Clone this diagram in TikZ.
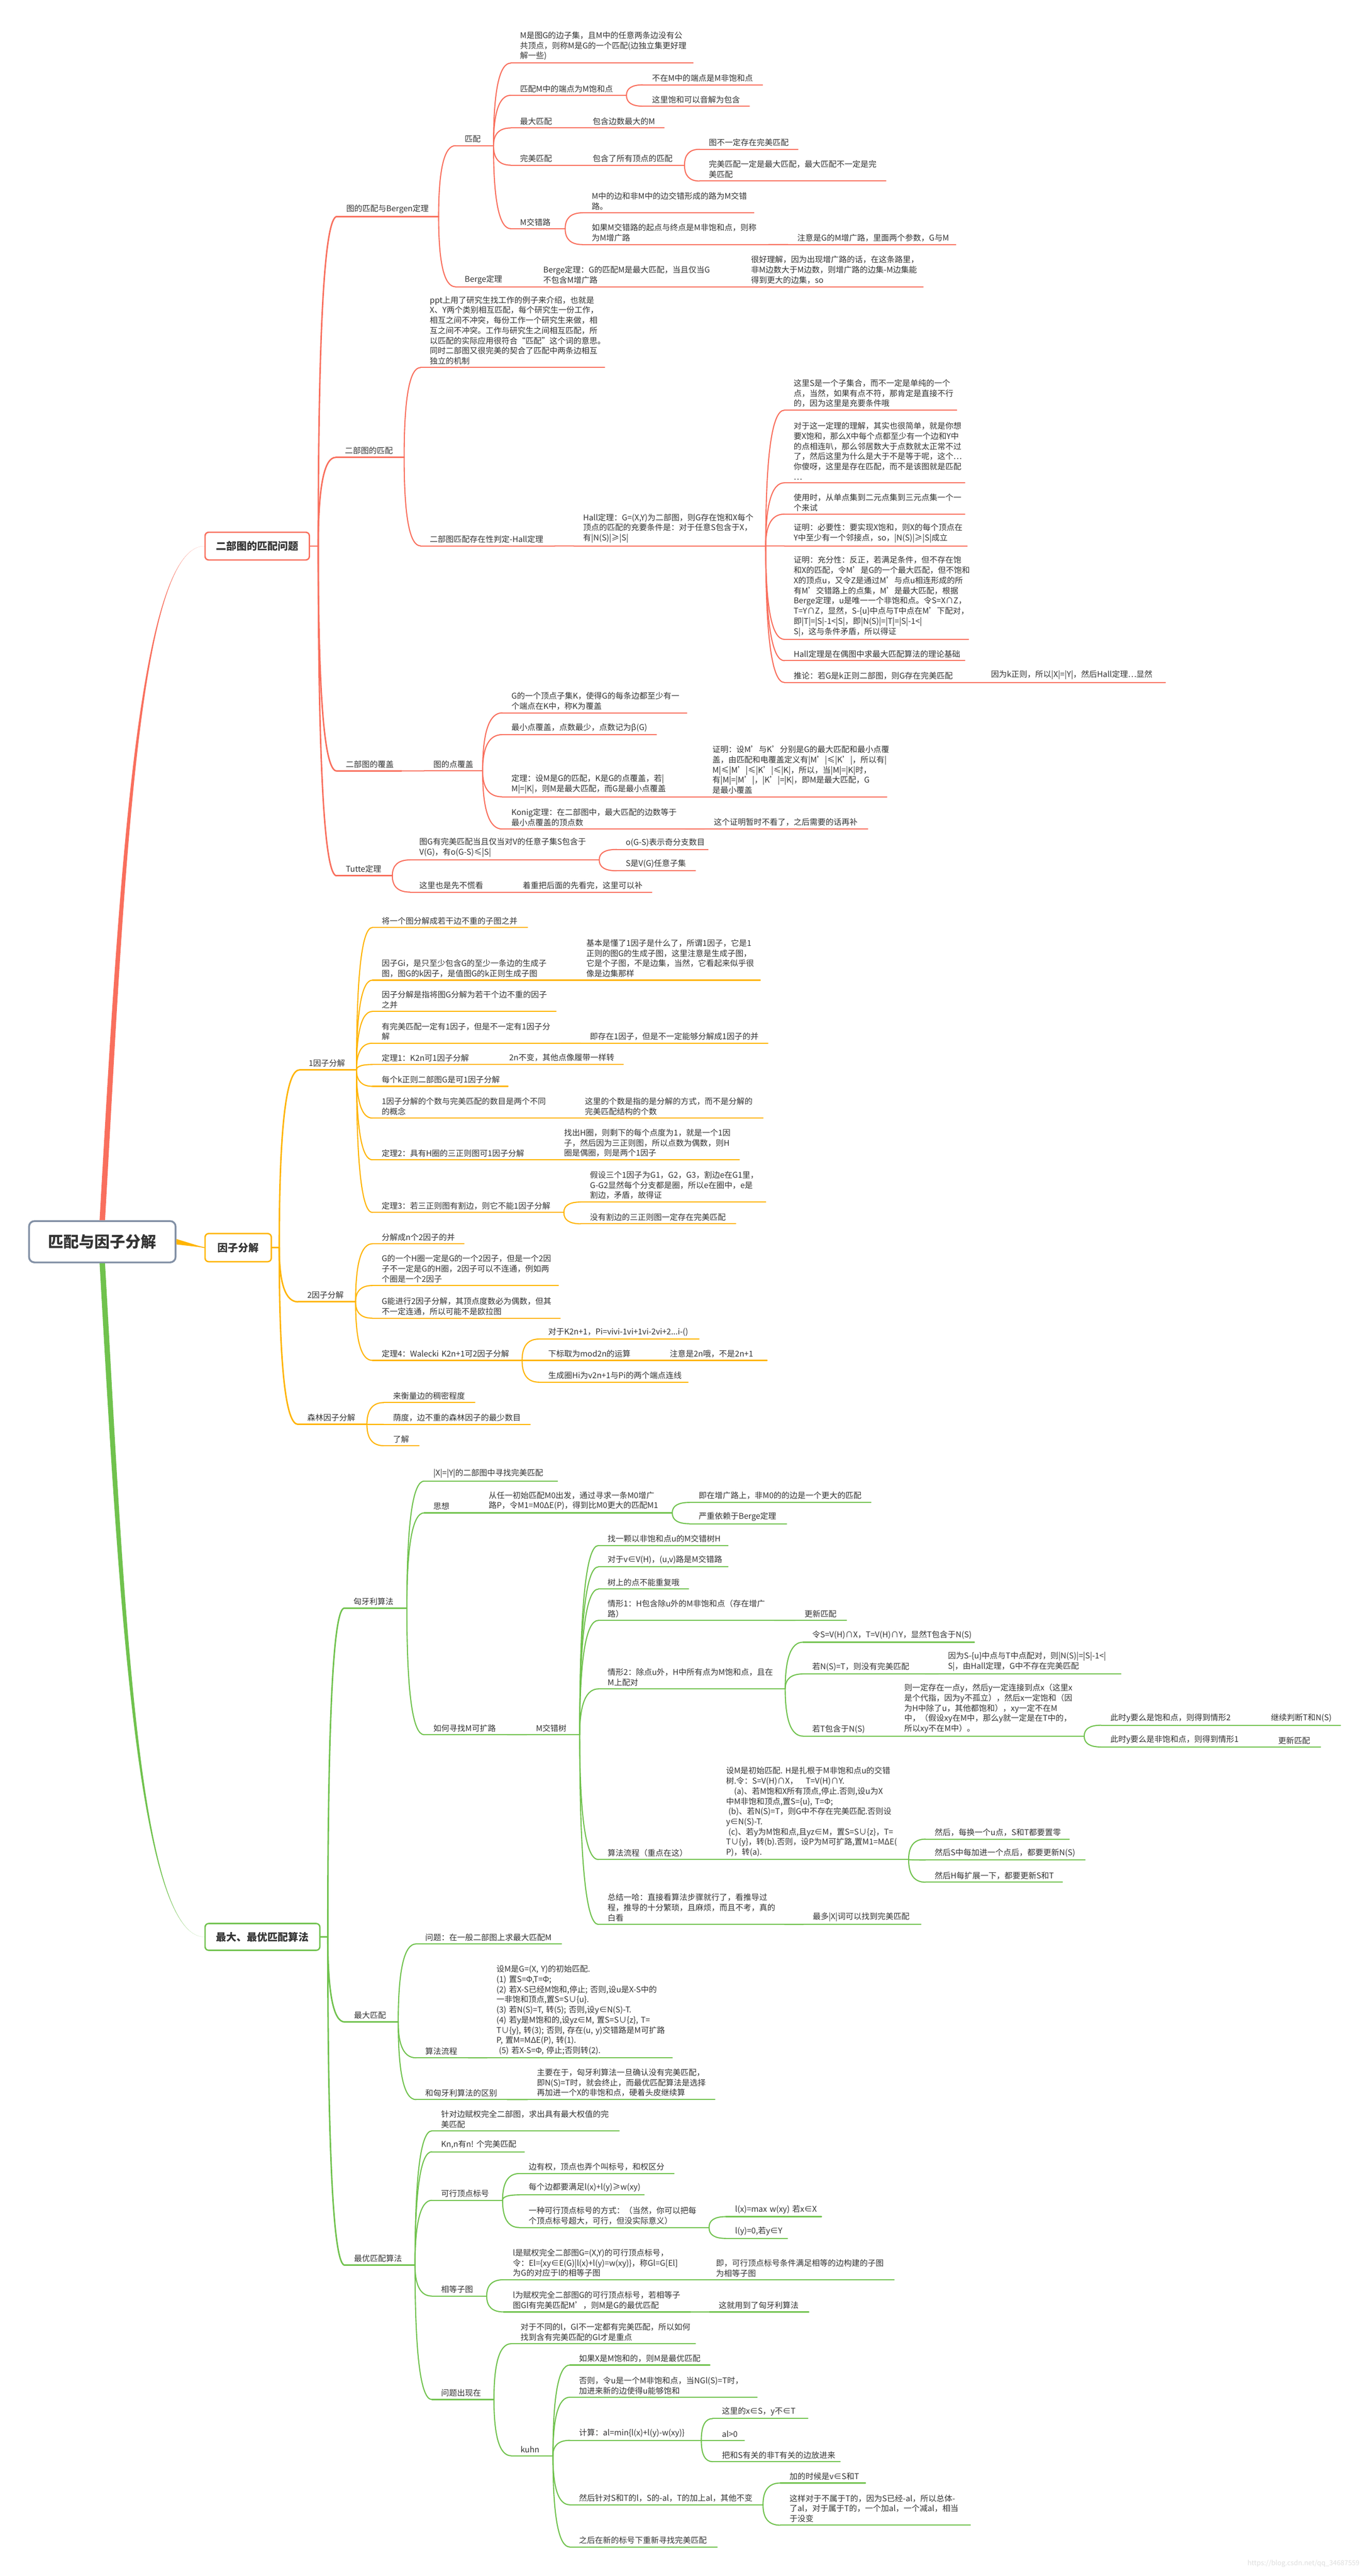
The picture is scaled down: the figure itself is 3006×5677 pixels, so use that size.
\documentclass[tikz,border=0pt]{standalone}
\usepackage{fontspec}
\setmainfont{Noto Sans CJK SC}
\usepackage{tikz}
\usetikzlibrary{calc}
\definecolor{rc}{HTML}{F96F5D}
\definecolor{yc}{HTML}{FFB400}
\definecolor{gc}{HTML}{70C24D}
\definecolor{rootc}{HTML}{8391A6}
\definecolor{txt}{HTML}{333333}
\newcommand{\leaffont}{\fontsize{8.8pt}{11.2pt}\selectfont\hyphenpenalty=10000\exhyphenpenalty=10000}
\newcommand{\twig}[6]{%
  \pgfmathsetmacro{\tlw}{(#4-#3)/2-20}%
  \node[#1, text width=\tlw pt] (#2) at (#3,#5) {#6};}

\begin{document}
\begin{tikzpicture}[x=0.5pt, y=-0.5pt,
  lf/.style={anchor=south west, inner xsep=10pt, inner ysep=3pt,
    align=left, font=\leaffont, text=txt,
    append after command={(\tikzlastnode.south west) edge[draw=#1, line width=1.2pt, line cap=round] (\tikzlastnode.south east)}},
  l1/.style={anchor=south west, inner xsep=10pt, inner ysep=3pt,
    align=left, font=\leaffont, text=txt,
    append after command={(\tikzlastnode.south west) edge[draw=#1, line width=1.6pt, line cap=round] (\tikzlastnode.south east)}},
  br/.style={draw=#1, line width=1.2pt, line cap=round,
    to path={.. controls ($(\tikztostart)!0.667!(\tikztostart|-\tikztotarget)$) and ($(\tikztotarget)!0.667!(\tikztostart|-\tikztotarget)$) .. (\tikztotarget)}},
  box/.style={draw=#1, line width=1.5pt, rounded corners=4pt, fill=white, text=txt,
    font=\fontsize{11.3pt}{13pt}\selectfont\bfseries}]
\fill[white] (0,0) rectangle (3006,5677);
\useasboundingbox (0,0) rectangle (3006,5677);
%
\node[draw=rootc, line width=2pt, rounded corners=6pt, fill=white, text=txt,
  minimum width=161.5pt, minimum height=45.5pt,
  font=\fontsize{17pt}{20pt}\selectfont\bfseries] (root) at (225.5,2736.5) {匹配与因子分解};
\node[box=rc, minimum width=115pt, minimum height=30.5pt] (pm) at (567,1203.5) {二部图的匹配问题};
\node[box=yc, minimum width=73pt, minimum height=31pt] (fz) at (525,2749.5) {因子分解};
\node[box=gc, minimum width=126.5pt, minimum height=29.5pt] (ga) at (578.5,4268.5) {最大、最优匹配算法};
%
\twig{l1=rc}{bg}{743}{966}{477}{图的匹配与Bergen定理}
\twig{lf=rc}{pp}{1004}{1087}{321}{匹配}
\twig{lf=rc}{pp1}{1126}{1527}{139}{M是图G的边子集，且M中的任意两条边没有公\\共顶点，则称M是G的一个匹配(边独立集更好理\\解一些)}
\twig{lf=rc}{pp2}{1126}{1380}{210}{匹配M中的端点为M饱和点}
\twig{lf=rc}{pp21}{1417}{1680}{187}{不在M中的端点是M非饱和点}
\twig{lf=rc}{pp22}{1417}{1651}{234}{这里饱和可以音解为包含}
\twig{lf=rc}{pp3}{1126}{1243}{282}{最大匹配}
\twig{lf=rc}{pp31}{1286}{1463}{282}{包含边数最大的M}
\twig{lf=rc}{pp4}{1126}{1243}{364}{完美匹配}
\twig{lf=rc}{pp41}{1286}{1508}{364}{包含了所有顶点的匹配}
\twig{lf=rc}{pp411}{1542}{1758}{329}{图不一定存在完美匹配}
\twig{lf=rc}{pp412}{1542}{1952}{399}{完美匹配一定是最大匹配，最大匹配不一定是完\\美匹配}
\twig{lf=rc}{pp5}{1126}{1245}{504}{M交错路}
\twig{lf=rc}{pp51}{1284}{1661}{469}{M中的边和非M中的边交错形成的路为M交错\\路。}
\twig{lf=rc}{pp52}{1284}{1693}{539}{如果M交错路的起点与终点是M非饱和点，则称\\为M增广路}
\twig{lf=rc}{pp521}{1737}{2106}{539}{注意是G的M增广路，里面两个参数，G与M}
\twig{lf=rc}{bt}{1004}{1145}{632}{Berge定理}
\twig{lf=rc}{bt1}{1177}{1590}{632}{Berge定理：G的匹配M是最大匹配，当且仅当G\\不包含M增广路}
\twig{lf=rc}{bt11}{1635}{2034}{632}{很好理解，因为出现增广路的话，在这条路里，\\非M边数大于M边数，则增广路的边集-M边集能\\得到更大的边集，so}
\twig{l1=rc}{bp}{740}{890}{1008}{二部图的匹配}
\twig{lf=rc}{bp1}{927}{1332}{810}{ppt上用了研究生找工作的例子来介绍，也就是\\X、Y两个类别相互匹配，每个研究生一份工作，\\相互之间不冲突，每份工作一个研究生来做，相\\互之间不冲突。工作与研究生之间相互匹配，所\\以匹配的实际应用很符合“匹配”这个词的意思。\\同时二部图又很完美的契合了匹配中两条边相互\\独立的机制}
\twig{lf=rc}{bh}{927}{1222}{1203}{二部图匹配存在性判定-Hall定理}
\twig{lf=rc}{hl}{1265}{1687}{1203}{Hall定理：G=(X,Y)为二部图，则G存在饱和X每个\\顶点的匹配的充要条件是：对于任意S包含于X，\\有|N(S)|≥|S|}
\twig{lf=rc}{hl1}{1729}{2108}{904}{这里S是一个子集合，而不一定是单纯的一个\\点，当然，如果有点不符，那肯定是直接不行\\的，因为这里是充要条件哦}
\twig{lf=rc}{hl2}{1729}{2126}{1064}{对于这一定理的理解，其实也很简单，就是你想\\要X饱和，那么X中每个点都至少有一个边和Y中\\的点相连叭，那么邻居数大于点数就太正常不过\\了，然后这里为什么是大于不是等于呢，这个…\\你傻呀，这里是存在匹配，而不是该图就是匹配\\…}
\twig{lf=rc}{hl3}{1729}{2126}{1133}{使用时，从单点集到二元点集到三元点集一个一\\个来试}
\twig{lf=rc}{hl4}{1729}{2131}{1203}{证明：必要性：要实现X饱和，则X的每个顶点在\\Y中至少有一个邻接点，so，|N(S)|≥|S|成立}
\twig{lf=rc}{hl5}{1729}{2134}{1409}{证明：充分性：反正，若满足条件，但不存在饱\\和X的匹配，令M'是G的一个最大匹配，但不饱和\\X的顶点u，又令Z是通过M'与点u相连形成的所\\有M'交错路上的点集，M'是最大匹配，根据\\Berge定理，u是唯一一个非饱和点。令S=X∩Z，\\T=Y∩Z，显然，S-\{u\}中点与T中点在M'下配对，\\即|T|=|S|-1<|S|，即|N(S)|=|T|=|S|-1<|\\S|，这与条件矛盾，所以得证}
\twig{lf=rc}{hl6}{1729}{2126}{1456}{Hall定理是在偶图中求最大匹配算法的理论基础}
\twig{lf=rc}{hl7}{1729}{2121}{1504}{推论：若G是k正则二部图，则G存在完美匹配}
\twig{lf=rc}{hl71}{2164}{2568}{1504}{因为k正则，所以|X|=|Y|，然后Hall定理…显然}
\twig{l1=rc}{cv}{742}{884}{1699}{二部图的覆盖}
\twig{lf=rc}{cv1}{935}{1063}{1699}{图的点覆盖}
\twig{lf=rc}{cv11}{1107}{1513}{1571}{G的一个顶点子集K，使得G的每条边都至少有一\\个端点在K中，称K为覆盖}
\twig{lf=rc}{cv12}{1107}{1446}{1619}{最小点覆盖，点数最少，点数记为β(G)}
\twig{lf=rc}{cv13}{1107}{1516}{1756}{定理：设M是G的匹配，K是G的点覆盖，若|\\M|=|K|，则M是最大匹配，而G是最小点覆盖}
\twig{lf=rc}{cv131}{1550}{1954}{1756}{证明：设M'与K'分别是G的最大匹配和最小点覆\\盖，由匹配和电覆盖定义有|M'|≤|K'|，所以有|\\M|≤|M'|≤|K'|≤|K|，所以，当|M|=|K|时，\\有|M|=|M'|，|K'|=|K|，即M是最大匹配，G\\是最小覆盖}
\twig{lf=rc}{cv14}{1107}{1510}{1827}{Konig定理：在二部图中，最大匹配的边数等于\\最小点覆盖的顶点数}
\twig{lf=rc}{cv141}{1553}{1912}{1827}{这个证明暂时不看了，之后需要的话再补}
\twig{l1=rc}{tt}{742}{864}{1930}{Tutte定理}
\twig{lf=rc}{tt1}{904}{1320}{1895}{图G有完美匹配当且仅当对V的任意子集S包含于\\V(G)，有o(G-S)≤|S|}
\twig{lf=rc}{tt11}{1359}{1560}{1872}{o(G-S)表示奇分支数目}
\twig{lf=rc}{tt12}{1359}{1532}{1919}{S是V(G)任意子集}
\twig{lf=rc}{tt2}{904}{1090}{1966}{这里也是先不慌看}
\twig{lf=rc}{tt21}{1132}{1436}{1966}{着重把后面的先看完，这里可以补}
%
\twig{l1=yc}{f1}{660}{785}{2358}{1因子分解}
\twig{lf=yc}{f11}{821}{1162}{2044}{将一个图分解成若干边不重的子图之并}
\twig{lf=yc}{f12}{821}{1228}{2160}{因子Gi，是只至少包含G的至少一条边的生成子\\图，图G的k因子，是值图G的k正则生成子图}
\twig{lf=yc}{f121}{1272}{1675}{2160}{基本是懂了1因子是什么了，所谓1因子，它是1\\正则的图G的生成子图，这里注意是生成子图，\\它是个子图，不是边集，当然，它看起来似乎很\\像是边集那样}
\twig{lf=yc}{f13}{821}{1225}{2229}{因子分解是指将图G分解为若干个边不重的因子\\之并}
\twig{lf=yc}{f14}{821}{1235}{2299}{有完美匹配一定有1因子，但是不一定有1因子分\\解}
\twig{lf=yc}{f141}{1280}{1692}{2299}{即存在1因子，但是不一定能够分解成1因子的并}
\twig{lf=yc}{f15}{821}{1058}{2346}{定理1：K2n可1因子分解}
\twig{lf=yc}{f151}{1102}{1373}{2346}{2n不变，其他点像履带一样转}
\twig{lf=yc}{f16}{821}{1119}{2394}{每个k正则二部图G是可1因子分解}
\twig{lf=yc}{f17}{821}{1227}{2464}{1因子分解的个数与完美匹配的数目是两个不同\\的概念}
\twig{lf=yc}{f171}{1269}{1681}{2464}{这里的个数是指的是分解的方式，而不是分解的\\完美匹配结构的个数}
\twig{lf=yc}{f18}{821}{1180}{2556}{定理2：具有H圈的三正则图可1因子分解}
\twig{lf=yc}{f181}{1223}{1629}{2556}{找出H圈，则剩下的每个点度为1，就是一个1因\\子，然后因为三正则图，所以点数为偶数，则H\\圈是偶圈，则是两个1因子}
\twig{lf=yc}{f19}{821}{1242}{2672}{定理3：若三正则图有割边，则它不能1因子分解}
\twig{lf=yc}{f191}{1280}{1687}{2649}{假设三个1因子为G1，G2，G3，割边e在G1里，\\G-G2显然每个分支都是圈，所以e在圈中，e是\\割边，矛盾，故得证}
\twig{lf=yc}{f192}{1280}{1621}{2697}{没有割边的三正则图一定存在完美匹配}
\twig{l1=yc}{f2}{657}{783}{2869}{2因子分解}
\twig{lf=yc}{f21}{821}{1022}{2741}{分解成n个2因子的并}
\twig{lf=yc}{f22}{821}{1230}{2833}{G的一个H圈一定是G的一个2因子，但是一个2因\\子不一定是G的H圈，2因子可以不连通，例如两\\个圈是一个2因子}
\twig{lf=yc}{f23}{821}{1234}{2905}{G能进行2因子分解，其顶点度数必为偶数，但其\\不一定连通，所以可能不是欧拉图}
\twig{lf=yc}{f24}{821}{1150}{2998}{定理4：Walecki~K2n+1可2因子分解}
\twig{lf=yc}{f241}{1188}{1540}{2951}{对于K2n+1，Pi=vivi-1vi+1vi-2vi+2...i-()}
\twig{lf=yc}{f242}{1188}{1414}{2998}{下标取为mod2n的运算}
\twig{lf=yc}{f2421}{1456}{1690}{2998}{注意是2n哦，不是2n+1}
\twig{lf=yc}{f243}{1188}{1516}{3046}{生成圈Hi为v2n+1与Pi的两个端点连线}
\twig{l1=yc}{f3}{657}{808}{3139}{森林因子分解}
\twig{lf=yc}{f31}{846}{1046}{3091}{来衡量边的稠密程度}
\twig{lf=yc}{f32}{846}{1168}{3139}{荫度，边不重的森林因子的最少数目}
\twig{lf=yc}{f33}{846}{923}{3186}{了解}
%
\twig{l1=gc}{hg}{759}{896}{3544}{匈牙利算法}
\twig{lf=gc}{hg1}{935}{1228}{3264}{|X|=|Y|的二部图中寻找完美匹配}
\twig{lf=gc}{hg2}{935}{1013}{3334}{思想}
\twig{lf=gc}{hg21}{1057}{1481}{3334}{从任一初始匹配M0出发，通过寻求一条M0增广\\路P，令M1=M0ΔE(P)，得到比M0更大的匹配M1}
\twig{lf=gc}{hg211}{1520}{1919}{3311}{即在增广路上，非M0的的边是一个更大的匹配}
\twig{lf=gc}{hg212}{1520}{1733}{3358}{严重依赖于Berge定理}
\twig{lf=gc}{hg3}{935}{1117}{3823}{如何寻找M可扩路}
\twig{lf=gc}{hg31}{1161}{1277}{3823}{M交错树}
\twig{lf=gc}{hx1}{1319}{1604}{3406}{找一颗以非饱和点u的M交错树H}
\twig{lf=gc}{hx2}{1319}{1604}{3453}{对于v∈V(H)，(u,v)路是M交错路}
\twig{lf=gc}{hx3}{1319}{1517}{3502}{树上的点不能重复哦}
\twig{lf=gc}{hx4}{1319}{1706}{3571}{情形1：H包含除u外的M非饱和点（存在增广\\路）}
\twig{lf=gc}{hx41}{1753}{1865}{3571}{更新匹配}
\twig{lf=gc}{hx5}{1319}{1730}{3722}{情形2：除点u外，H中所有点为M饱和点，且在\\M上配对}
\twig{lf=gc}{hx51}{1770}{2147}{3619}{令S=V(H)∩X，T=V(H)∩Y，显然T包含于N(S)}
\twig{lf=gc}{hx52}{1770}{2038}{3689}{若N(S)=T，则没有完美匹配}
\twig{lf=gc}{hx521}{2069}{2470}{3689}{因为S-\{u\}中点与T中点配对，则|N(S)|=|S|-1<|\\S|，由Hall定理，G中不存在完美匹配}
\twig{lf=gc}{hx53}{1770}{1927}{3826}{若T包含于N(S)}
\twig{lf=gc}{hx531}{1973}{2389}{3826}{则一定存在一点y，然后y一定连接到点x（这里x\\是个代指，因为y不孤立），然后x一定饱和（因\\为H中除了u，其他都饱和），xy一定不在M\\中，（假设xy在M中，那么y就一定是在T中的，\\所以xy不在M中）。}
\twig{lf=gc}{hx5311}{2427}{2733}{3802}{此时y要么是饱和点，则得到情形2}
\twig{lf=gc}{hx53111}{2781}{2954}{3802}{继续判断T和N(S)}
\twig{lf=gc}{hx5312}{2427}{2751}{3850}{此时y要么是非饱和点，则得到情形1}
\twig{lf=gc}{hx53121}{2797}{2910}{3850}{更新匹配}
\twig{lf=gc}{hx6}{1319}{1535}{4098}{算法流程（重点在这）}
\twig{lf=gc}{hx61}{1580}{2002}{4098}{设M是初始匹配.~H是扎根于M非饱和点u的交错\\树.令：S=V(H)∩X，~~~T=V(H)∩Y.\\\hspace*{1em}(a)、若M饱和X所有顶点,停止.否则,设u为X\\中M非饱和顶点,置S=\{u\},~T=Φ;\\\hspace*{0.3em}(b)、若N(S)=T，则G中不存在完美匹配.否则设\\y∈N(S)-T.\\\hspace*{0.3em}(c)、若y为M饱和点,且yz∈M，置S=S∪\{z\}，T=\\T∪\{y\}，转(b).否则，设P为M可扩路,置M1=MΔE(\\P)，转(a).}
\twig{lf=gc}{hx611}{2040}{2356}{4053}{然后，每换一个u点，S和T都要置零}
\twig{lf=gc}{hx612}{2040}{2391}{4099}{然后S中每加进一个点后，都要更新N(S)}
\twig{lf=gc}{hx613}{2040}{2341}{4148}{然后H每扩展一下，都要更新S和T}
\twig{lf=gc}{hx7}{1319}{1728}{4241}{总结一哈：直接看算法步骤就行了，看推导过\\程，推导的十分繁琐，且麻烦，而且不考，真的\\白看}
\twig{lf=gc}{hx71}{1771}{2029}{4241}{最多|X|词可以找到完美匹配}
\twig{l1=gc}{mx}{760}{877}{4456}{最大匹配}
\twig{lf=gc}{mx1}{917}{1237}{4284}{问题：在一般二部图上求最大匹配M}
\twig{lf=gc}{mx2}{917}{1031}{4535}{算法流程}
\twig{lf=gc}{mx21}{1074}{1481}{4535}{设M是G=(X,~Y)的初始匹配.\\(1)~置S=Φ,T=Φ;\\(2)~若X-S已经M饱和,停止;~否则,设u是X-S中的\\一非饱和顶点,置S=S∪\{u\}.\\(3)~若N(S)=T,~转(5);~否则,设y∈N(S)-T.\\(4)~若y是M饱和的,设yz∈M,~置S=S∪\{z\},~T=\\T∪\{y\},~转(3);~否则,~存在(u,~y)交错路是M可扩路\\P,~置M=MΔE(P),~转(1).\\\hspace*{0.3em}(5)~若X-S=Φ,~停止;否则转(2).}
\twig{lf=gc}{mx3}{917}{1117}{4627}{和匈牙利算法的区别}
\twig{lf=gc}{mx31}{1163}{1575}{4627}{主要在于，匈牙利算法一旦确认没有完美匹配，\\即N(S)=T时，就会终止，而最优匹配算法是选择\\再加进一个X的非饱和点，硬着头皮继续算}
\twig{l1=gc}{op}{760}{914}{4992}{最优匹配算法}
\twig{lf=gc}{op1}{952}{1364}{4696}{针对边赋权完全二部图，求出具有最大权值的完\\美匹配}
\twig{lf=gc}{op2}{952}{1155}{4742}{Kn,n有n!~个完美匹配}
\twig{lf=gc}{op3}{952}{1107}{4849}{可行顶点标号}
\twig{lf=gc}{op31}{1145}{1485}{4790}{边有权，顶点也弄个叫标号，和权区分}
\twig{lf=gc}{op32}{1145}{1419}{4837}{每个边都要满足l(x)+l(y)≥w(xy)}
\twig{lf=gc}{op33}{1145}{1562}{4909}{一种可行顶点标号的方式：（当然，你可以把每\\个顶点标号超大，可行，但没实际意义）}
\twig{lf=gc}{op331}{1600}{1810}{4885}{l(x)=max~w(xy)~若x∈X}
\twig{lf=gc}{op332}{1600}{1735}{4933}{l(y)=0,若y∈Y}
\twig{lf=gc}{op4}{952}{1072}{5060}{相等子图}
\twig{lf=gc}{op41}{1110}{1513}{5024}{l是赋权完全二部图G=(X,Y)的可行顶点标号，\\令：El=\{xy∈E(G)|l(x)+l(y)=w(xy)\}，称Gl=G[El]\\为G的对应于l的相等子图}
\twig{lf=gc}{op411}{1558}{1970}{5024}{即，可行顶点标号条件满足相等的边构建的子图\\为相等子图}
\twig{lf=gc}{op42}{1110}{1521}{5095}{l为赋权完全二部图G的可行顶点标号，若相等子\\图Gl有完美匹配M'，则M是G的最优匹配}
\twig{lf=gc}{op421}{1564}{1782}{5095}{这就用到了匈牙利算法}
\twig{lf=gc}{op5}{952}{1088}{5288}{问题出现在}
\twig{lf=gc}{op51}{1127}{1532}{5165}{对于不同的l，Gl不一定都有完美匹配，所以如何\\找到含有完美匹配的Gl才是重点}
\twig{lf=gc}{op52}{1127}{1218}{5412}{kuhn}
\twig{lf=gc}{k1}{1256}{1564}{5212}{如果X是M饱和的，则M是最优匹配}
\twig{lf=gc}{k2}{1256}{1668}{5283}{否则，令u是一个M非饱和点，当NGl(S)=T时，\\加进来新的边使得u能够饱和}
\twig{lf=gc}{k3}{1256}{1545}{5378}{计算：al=min\{l(x)+l(y)-w(xy)\}}
\twig{lf=gc}{k31}{1571}{1780}{5330}{这里的x∈S，y不∈T}
\twig{lf=gc}{k32}{1571}{1640}{5378}{al>0}
\twig{lf=gc}{k33}{1571}{1851}{5425}{把和S有关的非T有关的边放进来}
\twig{lf=gc}{k4}{1256}{1681}{5520}{然后针对S和T的l，S的-al，T的加上al，其他不变}
\twig{lf=gc}{k41}{1720}{1907}{5472}{加的时候是v∈S和T}
\twig{lf=gc}{k42}{1720}{2138}{5565}{这样对于不属于T的，因为S已经-al，所以总体-\\了al，对于属于T的，一个加al，一个减al，相当\\于没变}
\twig{lf=gc}{k5}{1256}{1580}{5613}{之后在新的标号下重新寻找完美匹配}
\node[anchor=east, inner sep=0pt, text=black!13, font=\fontsize{7.5pt}{9pt}\selectfont] (wm) at (2997,5650) {https://blog.csdn.net/qq\_34687559};
%
\fill[rc] ([xshift=-3pt]root.north) .. controls ($(root.north)+(34,-700)$) and ($(pm.west)+(-150,0)$) .. (pm.west)
  .. controls ($(pm.west)+(-150,0)$) and ($(root.north)+(46,-700)$) .. ([xshift=3pt]root.north) -- cycle;
\fill[gc] ([xshift=-3pt]root.south) .. controls ($(root.south)+(34,700)$) and ($(ga.west)+(-150,0)$) .. (ga.west)
  .. controls ($(ga.west)+(-150,0)$) and ($(root.south)+(46,700)$) .. ([xshift=3pt]root.south) -- cycle;
\fill[yc] ([yshift=3pt]root.east) -- (fz.west) -- ([yshift=-3pt]root.east) -- cycle;
\draw[yc, line width=1pt] (root.east) -- (fz.west);
%
\coordinate (pmr) at ([xshift=9pt]pm.east);
\coordinate (fzr) at ([xshift=8pt]fz.east);
\coordinate (gar) at ([xshift=8pt]ga.east);
\draw[rc, line width=1.6pt] (pm.east) -- (pmr);
\draw[yc, line width=1.6pt] (fz.east) -- (fzr);
\draw[gc, line width=1.6pt] (ga.east) -- (gar);
\foreach \b in {bg, bp, cv, tt} \draw[br=rc, line width=1.6pt] (pmr) to (\b.south west);
\foreach \b in {f1, f2, f3} \draw[br=yc, line width=1.6pt] (fzr) to (\b.south west);
\foreach \b in {hg, mx, op} \draw[br=gc, line width=1.6pt] (gar) to (\b.south west);
%
\foreach \a/\b in {bg/pp, bg/bt, pp/pp1, pp/pp2, pp/pp3, pp/pp4, pp/pp5, pp2/pp21, pp2/pp22,
  pp3/pp31, pp4/pp41, pp41/pp411, pp41/pp412, pp5/pp51, pp5/pp52, pp52/pp521, bt/bt1, bt1/bt11,
  bp/bp1, bp/bh, bh/hl, hl/hl1, hl/hl2, hl/hl3, hl/hl4, hl/hl5, hl/hl6, hl/hl7, hl7/hl71,
  cv/cv1, cv1/cv11, cv1/cv12, cv1/cv13, cv13/cv131, cv1/cv14, cv14/cv141,
  tt/tt1, tt1/tt11, tt1/tt12, tt/tt2, tt2/tt21}
  \draw[br=rc] (\a.south east) to (\b.south west);
\foreach \a/\b in {f1/f11, f1/f12, f1/f13, f1/f14, f1/f15, f1/f16, f1/f17, f1/f18, f1/f19,
  f12/f121, f14/f141, f15/f151, f17/f171, f18/f181, f19/f191, f19/f192,
  f2/f21, f2/f22, f2/f23, f2/f24, f24/f241, f24/f242, f242/f2421, f24/f243,
  f3/f31, f3/f32, f3/f33}
  \draw[br=yc] (\a.south east) to (\b.south west);
\foreach \a/\b in {hg/hg1, hg/hg2, hg/hg3, hg2/hg21, hg21/hg211, hg21/hg212, hg3/hg31,
  hg31/hx1, hg31/hx2, hg31/hx3, hg31/hx4, hg31/hx5, hg31/hx6, hg31/hx7, hx4/hx41,
  hx5/hx51, hx5/hx52, hx5/hx53, hx52/hx521, hx53/hx531, hx531/hx5311, hx531/hx5312,
  hx5311/hx53111, hx5312/hx53121, hx6/hx61, hx61/hx611, hx61/hx612, hx61/hx613, hx7/hx71,
  mx/mx1, mx/mx2, mx/mx3, mx2/mx21, mx3/mx31,
  op/op1, op/op2, op/op3, op/op4, op/op5, op3/op31, op3/op32, op3/op33, op33/op331, op33/op332,
  op4/op41, op4/op42, op41/op411, op42/op421, op5/op51, op5/op52,
  op52/k1, op52/k2, op52/k3, op52/k4, op52/k5, k3/k31, k3/k32, k3/k33, k4/k41, k4/k42}
  \draw[br=gc] (\a.south east) to (\b.south west);
\end{tikzpicture}
\end{document}
